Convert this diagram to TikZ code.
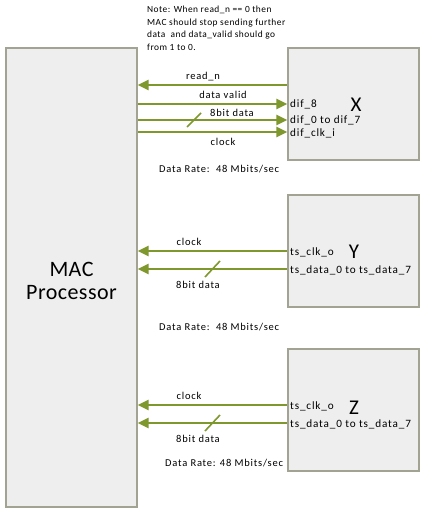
\documentclass[tikz,border=0pt]{standalone}
\usepackage{fontspec}
\setmainfont{Carlito}
\newfontfamily\widefont[LetterSpace=7.5]{Carlito}
\newfontfamily\notefont[LetterSpace=5]{Carlito}
\newfontfamily\bigfont[LetterSpace=2]{Carlito}
\usetikzlibrary{arrows.meta,shadows}
\definecolor{olive}{HTML}{7F982E}
\definecolor{boxfill}{HTML}{EEEEEE}
\definecolor{boxline}{HTML}{A3A393}
\tikzset{
  blk/.style={draw=boxline, fill=boxfill, line width=1.3pt, inner sep=0pt,
    drop shadow={shadow xshift=1.2pt, shadow yshift=-1.2pt, fill=black!25, opacity=0.6}},
  sig/.style={draw=olive, line width=2.3pt, -{Triangle[length=11pt,width=10pt]}},
  slashmark/.style={draw=olive, line width=1.6pt},
  lbl/.style={font=\widefont\fontsize{10.5}{12}\selectfont, inner sep=0pt},
  port/.style={font=\widefont\fontsize{11.2}{13}\selectfont, inner sep=0pt, anchor=west},
  big/.style={font=\bigfont\fontsize{22}{25}\selectfont, inner sep=0pt},
  letter/.style={font=\bigfont\fontsize{21}{24}\selectfont, inner sep=0pt, anchor=base},
  rate/.style={font=\widefont\fontsize{10.5}{12}\selectfont, inner sep=0pt, anchor=west},
}
\begin{document}
\begin{tikzpicture}[x=1pt,y=-1pt]
\useasboundingbox (0,0) rectangle (426,516);
\fill[white] (0,0) rectangle (426,516);

% blocks
\node[blk, minimum width=131pt, minimum height=459pt] (mac) at (71.5,277.5) {};
\node[big, align=center] (mactxt) at (71.5,281) {MAC\\[-2pt]Processor};
\node[blk, minimum width=131pt, minimum height=112pt] (bx) at (353.5,104) {};
\node[blk, minimum width=131pt, minimum height=112pt] (by) at (353.5,251) {};
\node[blk, minimum width=131pt, minimum height=122pt] (bz) at (353.5,410) {};

% note
\node[anchor=north west, align=left, inner sep=0pt,
  font=\notefont\fontsize{9.4}{12.5}\selectfont] (note) at (147,6)
  {Note: When read\_n == 0 then\\MAC should stop sending further\\data\ \ and data\_valid should go\\from 1 to 0.};

% X block signals
\coordinate (xr) at (288,85);
\coordinate (xd) at (138,104);
\coordinate (xe) at (138,120);
\coordinate (xc) at (138,132);
\draw[sig] (bx.west |- xr) -- (mac.east |- xr);
\draw[sig] (xd) -- (bx.west |- xd);
\draw[sig] (xe) -- (bx.west |- xe);
\draw[sig] (xc) -- (bx.west |- xc);
\draw[slashmark] (187,127) -- (201,113);
\node[lbl] (lrn) at (203,77) {read\_n};
\node[lbl] (ldv) at (223,95) {data valid};
\node[lbl] (l8x) at (232,113) {8bit data};
\node[lbl] (lcx) at (223,142) {clock};
\node[port] (p1) at (290,104) {dif\_8};
\node[port] (p2) at (290,120) {dif\_0 to dif\_7};
\node[port] (p3) at (290,133) {dif\_clk\_i};
\node[letter] (xname) at (356,111) {X};
\node[rate] (rx) at (159,169) {Data Rate:\ \ 48 Mbits/sec};

% Y block signals
\coordinate (yc) at (288,251);
\coordinate (yd) at (288,269);
\draw[sig] (by.west |- yc) -- (mac.east |- yc);
\draw[sig] (by.west |- yd) -- (mac.east |- yd);
\draw[slashmark] (205,277) -- (220,261);
\node[lbl] (lcy) at (189,242) {clock};
\node[lbl] (l8y) at (198,285) {8bit data};
\node[port] (py1) at (290,252) {ts\_clk\_o};
\node[port] (py2) at (290,270) {ts\_data\_0 to ts\_data\_7};
\node[letter] (yname) at (354,258) {Y};
\node[rate] (ry) at (159,327) {Data Rate:\ \ 48 Mbits/sec};

% Z block signals
\coordinate (zc) at (288,405);
\coordinate (zd) at (288,423);
\draw[sig] (bz.west |- zc) -- (mac.east |- zc);
\draw[sig] (bz.west |- zd) -- (mac.east |- zd);
\draw[slashmark] (205,431) -- (220,415);
\node[lbl] (lcz) at (189,396) {clock};
\node[lbl] (l8z) at (198,439) {8bit data};
\node[port] (pz1) at (290,406) {ts\_clk\_o};
\node[port] (pz2) at (290,424) {ts\_data\_0 to ts\_data\_7};
\node[letter] (zname) at (354,414) {Z};
\node[rate] (rz) at (165,463) {Data Rate: 48 Mbits/sec};
\end{tikzpicture}
\end{document}
